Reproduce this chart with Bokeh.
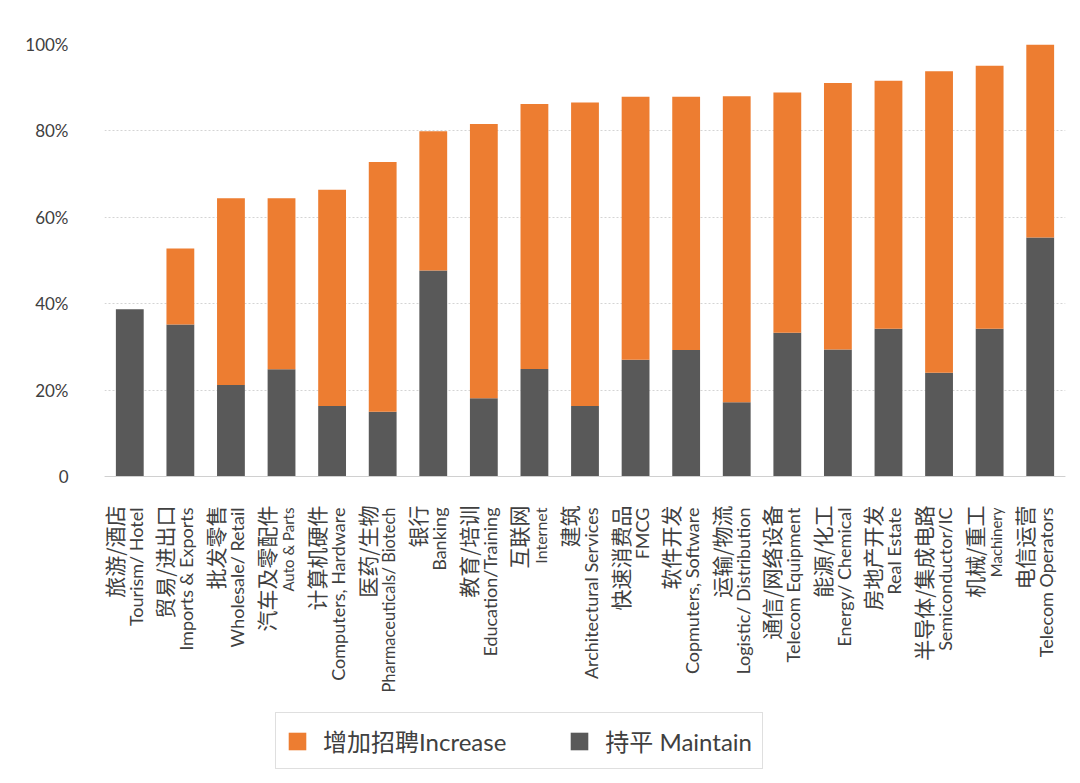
from bokeh.plotting import figure
from bokeh.models import (ColumnDataSource, LabelSet, Legend, LegendItem,
                          Range1d, FactorRange, FixedTicker, Span)
from bokeh.core.properties import value
from bokeh.embed import file_html
from bokeh.resources import INLINE

categories_cn = ["旅游/酒店", "贸易/进出口", "批发零售", "汽车及零配件", "计算机硬件",
                 "医药/生物", "银行", "教育/培训", "互联网", "建筑", "快速消费品",
                 "软件开发", "运输/物流", "通信/网络设备", "能源/化工", "房地产开发",
                 "半导体/集成电路", "机械/重工", "电信运营"]
categories_en = ["Tourism/ Hotel", "Imports & Exports", "Wholesale/ Retail", "Auto & Parts",
                 "Computers, Hardware", "Pharmaceuticals/ Biotech", "Banking",
                 "Education/Training", "Internet", "Architectural Services", "FMCG",
                 "Copmuters, Software", "Logistic/ Distribution", "Telecom Equipment",
                 "Energy/ Chemical", "Real Estate", "Semiconductor/IC", "Machinery",
                 "Telecom Operators"]
maintain = [38.7, 35.2, 21.2, 24.8, 16.3, 15.0, 47.7, 18.1, 24.9, 16.3, 27.0,
            29.3, 17.2, 33.3, 29.4, 34.2, 24.0, 34.2, 55.3]
increase = [0.0, 17.6, 43.2, 39.6, 50.1, 57.8, 32.2, 63.5, 61.3, 70.3, 60.9,
            58.6, 70.8, 55.6, 61.7, 57.4, 69.8, 60.9, 44.7]
series_names = ["增加招聘Increase", "持平 Maintain"]
y_ticks = [0, 20, 40, 60, 80, 100]
y_tick_labels = ["0", "20%", "40%", "60%", "80%", "100%"]

# ---- styling / layout ----
W, H = 1072, 775
LEFT, RIGHT, TOP = 104, 7, 44
frame_h = H - TOP
px_per_unit = 4.32
y_start = 100 - frame_h / px_per_unit  # room below 0 for category labels and legend
EN_SIZE_DEFAULT = "18px"
EN_SIZE_OVERRIDES = {"Auto & Parts": "15px", "Internet": "16px", "Machinery": "15px",
                     "Pharmaceuticals/ Biotech": "16.5px"}
en_sizes = [EN_SIZE_OVERRIDES.get(c, EN_SIZE_DEFAULT) for c in categories_en]

src = ColumnDataSource(dict(cat=categories_en, cn=categories_cn, en=categories_en,
                            maintain=maintain, increase=increase, en_size=en_sizes,
                            base=[0] * len(categories_en)))

p = figure(x_range=FactorRange(*categories_en), y_range=Range1d(y_start, 100),
           width=W, height=H, output_backend="svg", toolbar_location=None,
           min_border_left=LEFT, min_border_right=RIGHT, min_border_top=TOP,
           min_border_bottom=0)
p.outline_line_color = None
p.background_fill_color = "white"
p.border_fill_color = "white"

rs = p.vbar_stack(["maintain", "increase"], x="cat", width=0.55,
                  fill_color=["#595959", "#ED7D31"], line_color=None, source=src)

p.xgrid.grid_line_color = None
p.ygrid.grid_line_color = "#d4d4d4"
p.ygrid.grid_line_dash = "2 2"

p.yaxis.ticker = FixedTicker(ticks=y_ticks)
p.yaxis.major_label_overrides = dict(zip(y_ticks, y_tick_labels))
p.yaxis.axis_line_color = None
p.yaxis.major_tick_line_color = None
p.yaxis.minor_tick_line_color = None
p.yaxis.major_label_standoff = 30
p.yaxis.major_label_text_font = "Lato"
p.yaxis.major_label_text_font_size = "17px"
p.yaxis.major_label_text_color = "#404040"

p.xaxis.visible = False
p.add_layout(Span(location=0, dimension="width", line_color="#d0d0d0", line_width=1.2))

cn_labels = LabelSet(x="cat", y="base", text="cn", source=src, angle=90,
                     angle_units="deg", text_align="right", text_baseline="middle",
                     x_offset=-16, y_offset=-29,
                     text_font=value("Noto Sans CJK SC"), text_font_size="21px",
                     text_color="#404040")
en_labels = LabelSet(x="cat", y="base", text="en", source=src, angle=90,
                     angle_units="deg", text_align="right", text_baseline="middle",
                     x_offset=6, y_offset=-31,
                     text_font=value("Lato"), text_font_size="en_size",
                     text_color="#404040")
p.add_layout(cn_labels)
p.add_layout(en_labels)

legend = Legend(items=[LegendItem(label=series_names[0], renderers=[rs[1]]),
                       LegendItem(label=series_names[1], renderers=[rs[0]])],
                location=(171, 6), orientation="horizontal",
                glyph_width=22, glyph_height=22, label_standoff=15, spacing=62,
                padding=10, margin=0, label_height=22,
                label_text_font="Lato, Noto Sans CJK SC", label_text_font_size="24px",
                label_text_color="#404040", border_line_color="#bfbfbf",
                background_fill_alpha=1.0)
p.add_layout(legend)

open("out.html", "w").write(file_html(p, INLINE))
